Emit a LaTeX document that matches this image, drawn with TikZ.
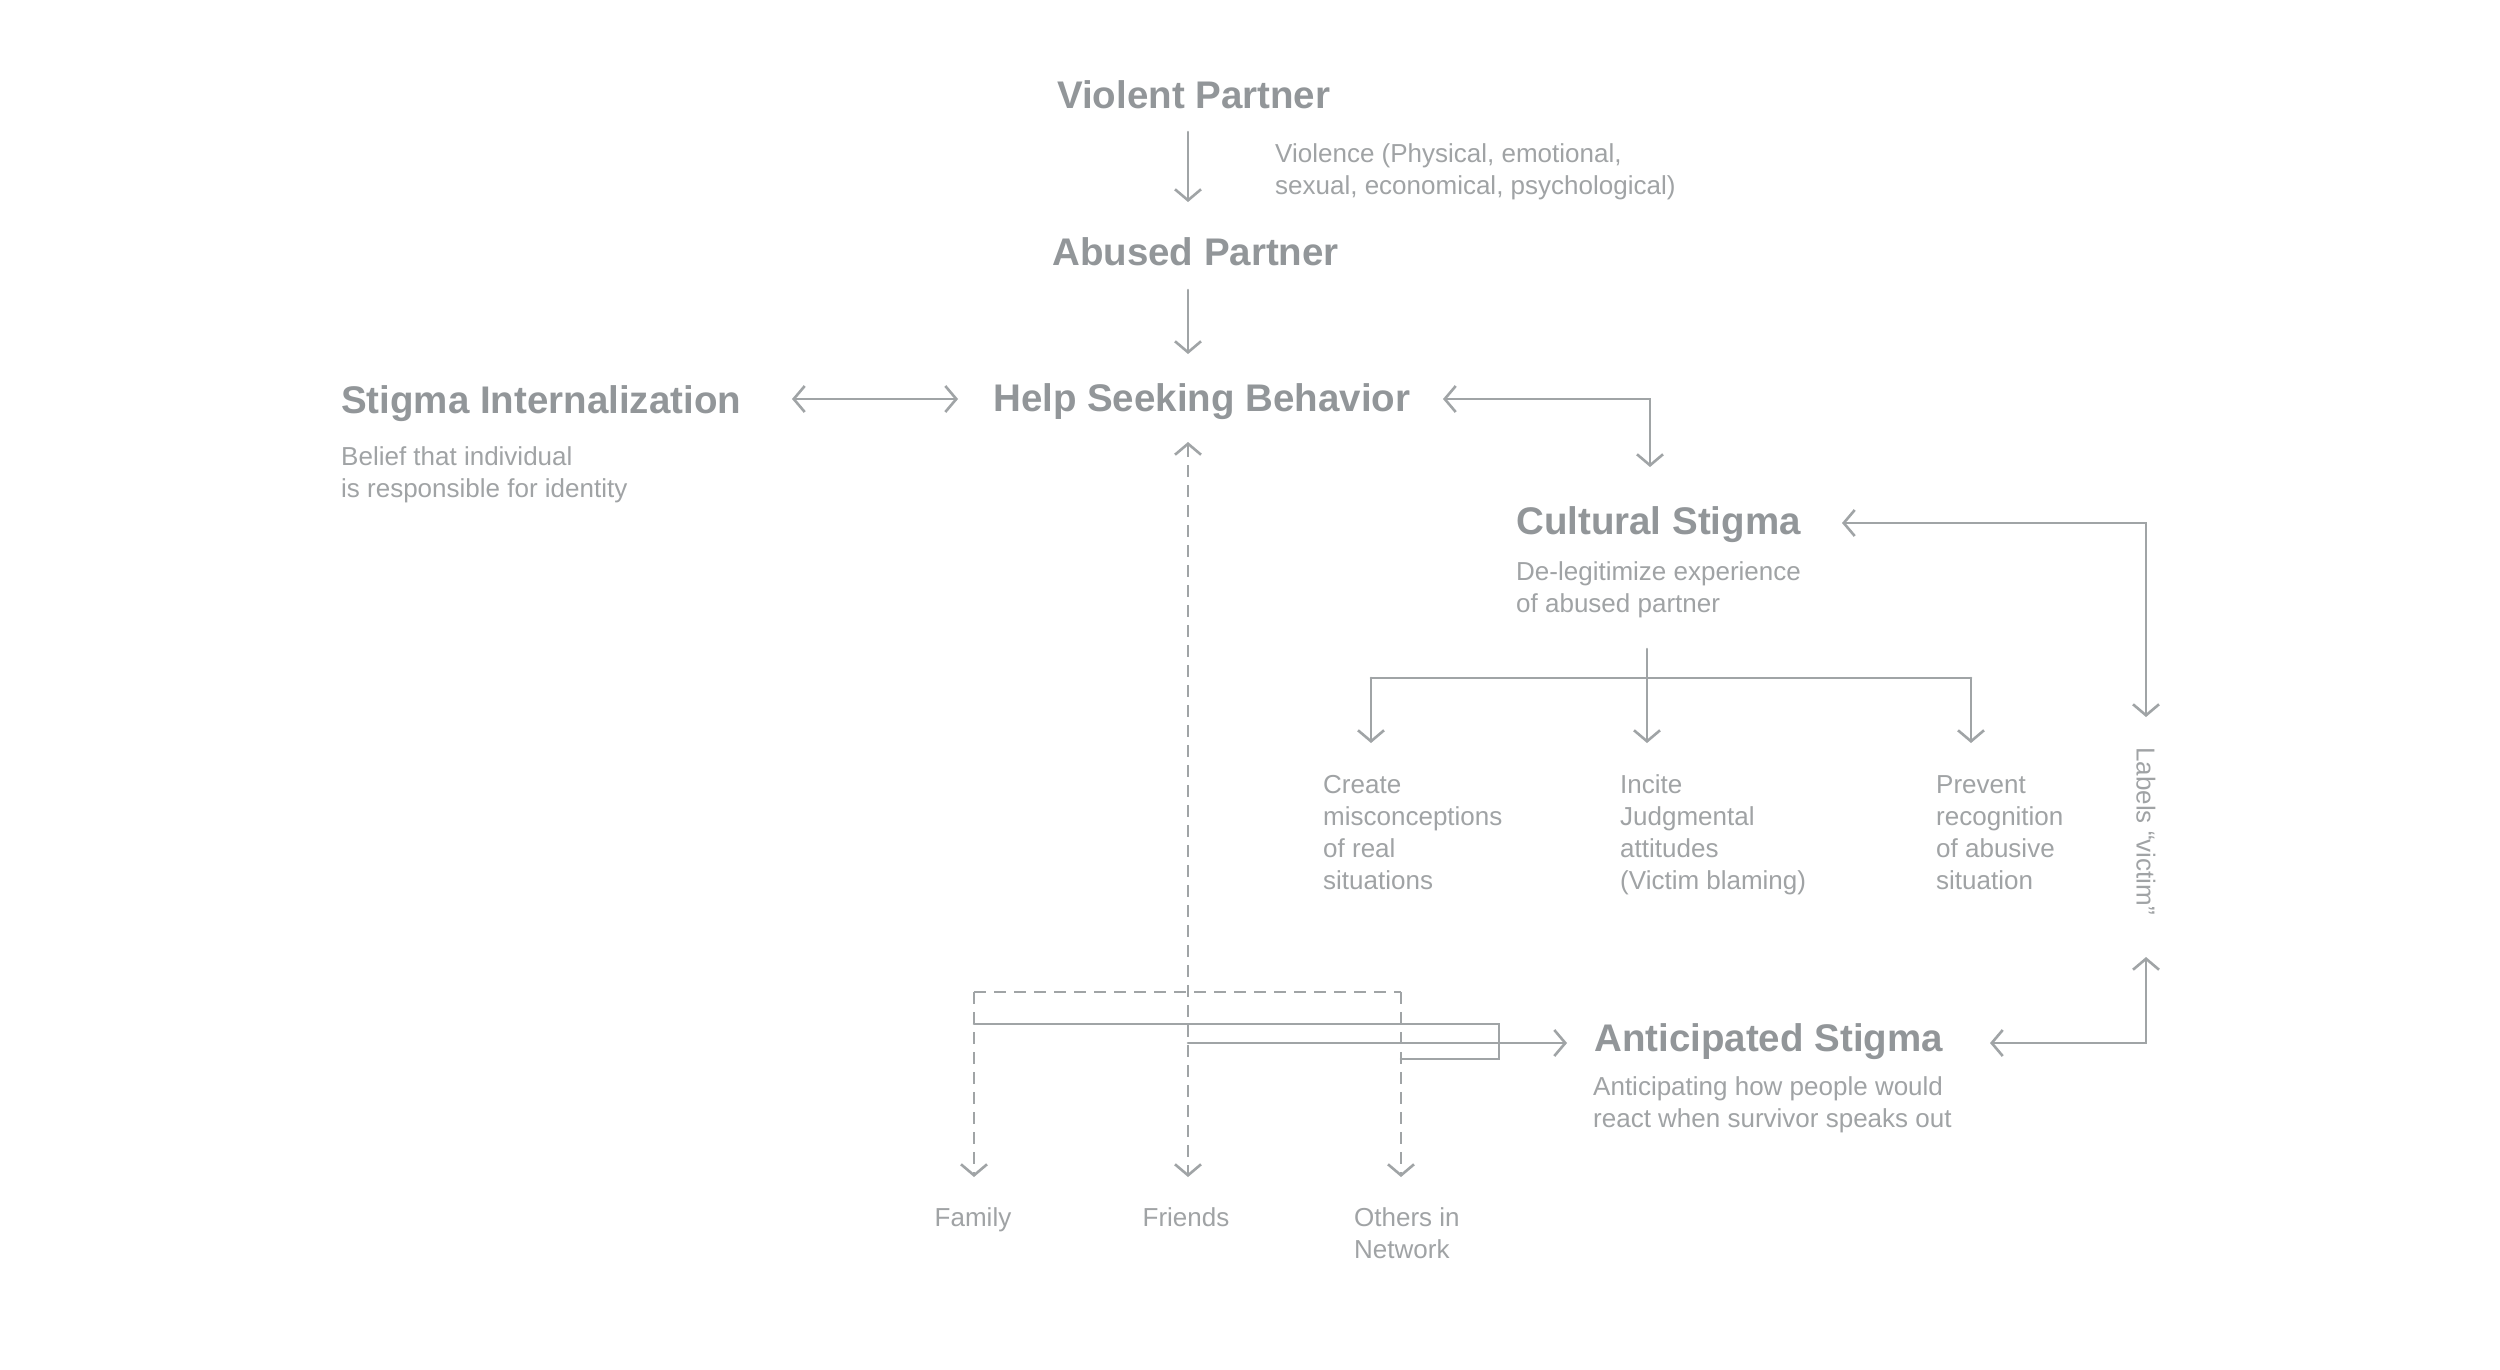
\documentclass[tikz,border=0pt]{standalone}
\usepackage{fontspec}
\setmainfont{Liberation Sans}
\usetikzlibrary{arrows.meta}
\definecolor{titlegray}{RGB}{146,150,153}
\definecolor{textgray}{RGB}{160,163,165}
\definecolor{linegray}{RGB}{160,164,166}
\tikzset{
  title/.style={anchor=base west, inner sep=0pt, text=titlegray, font=\fontsize{38.5}{44}\selectfont\bfseries},
  desc/.style={anchor=base west, inner sep=0pt, text=textgray, align=left, font=\fontsize{26}{32}\selectfont},
  conn/.style={draw=linegray, line width=2.6pt, line cap=round, line join=miter},
  arr/.style={conn, -{Straight Barb[length=11pt,width=26pt,line width=2.6pt]}},
  darr/.style={conn, {Straight Barb[length=11pt,width=26pt,line width=2.6pt]}-{Straight Barb[length=11pt,width=26pt,line width=2.6pt]}},
  dsh/.style={dash pattern=on 12pt off 8pt, line cap=butt}
}
\begin{document}
\begin{tikzpicture}[x=1pt,y=-1pt]
\fill[white] (0,0) rectangle (2500,1369);
\useasboundingbox (0,0) rectangle (2500,1369);

% titles
\node[title] (vp) at (1057,108) {Violent Partner};
\node[title] (ap) at (1052,265) {Abused Partner};
\node[title] (hs) at (993,411) {Help Seeking Behavior};
\node[title] (si) at (341,413) {Stigma Internalization};
\node[title] (cs) at (1516,534) {Cultural Stigma};
\node[title] (as) at (1594,1051) {Anticipated Stigma};

% descriptions (base anchor = last line baseline)
\node[desc] (viol) at (1275,194) {Violence (Physical, emotional,\\sexual, economical, psychological)};
\node[desc] (bel) at (341,497) {Belief that individual\\is responsible for identity};
\node[desc] (del) at (1516,612) {De-legitimize experience\\of abused partner};
\node[desc] (antd) at (1593,1127) {Anticipating how people would\\react when survivor speaks out};
\node[desc] (cr) at (1323,889) {Create\\misconceptions\\of real\\situations};
\node[desc] (inc) at (1620,889) {Incite\\Judgmental\\attitudes\\(Victim blaming)};
\node[desc] (prv) at (1936,889) {Prevent\\recognition\\of abusive\\situation};
\node[desc, anchor=base] (fam) at (973,1226) {Family};
\node[desc, anchor=base] (fri) at (1186,1226) {Friends};
\node[desc] (oth) at (1354,1258) {Others in\\Network};
\node[inner sep=0pt, text=textgray, font=\fontsize{26}{32}\selectfont, rotate=-90] (lv) at (2146,831) {Labels “victim”};

% connector coordinates
\coordinate (a1s) at (1188,132); \coordinate (a1e) at (1188,202);
\coordinate (a2s) at (1188,290); \coordinate (a2e) at (1188,354);
\coordinate (d1s) at (792,399);  \coordinate (d1e) at (958,399);
\coordinate (hc1) at (1443,399); \coordinate (hc2) at (1650,399); \coordinate (hc3) at (1650,467);
\coordinate (cl1) at (1842,523); \coordinate (cl2) at (2146,523); \coordinate (cl3) at (2146,717);
\coordinate (la1) at (2146,957); \coordinate (la2) at (2146,1043); \coordinate (la3) at (1990,1043);
\coordinate (br0) at (1647,649); \coordinate (brm) at (1647,743);
\coordinate (brl) at (1371,678); \coordinate (brr) at (1971,678);
\coordinate (brle) at (1371,743); \coordinate (brre) at (1971,743);
\coordinate (hdt) at (1188,442); \coordinate (hdb) at (1188,1177);
\coordinate (fa) at (974,1177); \coordinate (fat) at (974,992);
\coordinate (ot) at (1401,992); \coordinate (ob) at (1401,1177);
\coordinate (s1) at (974,1024); \coordinate (s2) at (1499,1024); \coordinate (s3) at (1499,1059); \coordinate (s4) at (1401,1059);
\coordinate (t1) at (1188,1043); \coordinate (t2) at (1567,1043);

% connectors
\draw[arr] (a1s) -- (a1e);
\draw[arr] (a2s) -- (a2e);
\draw[darr] (d1s) -- (d1e);
\draw[darr] (hc1) -- (hc2) -- (hc3);
\draw[darr] (cl1) -- (cl2) -- (cl3);
\draw[darr] (la1) -- (la2) -- (la3);
\draw[arr] (br0) -- (brm);
\draw[conn] (brl) -- (brr);
\draw[arr] (brl) -- (brle);
\draw[arr] (brr) -- (brre);

\draw[conn] (s1) -- (s2) -- (s3) -- (s4);
\draw[arr] (t1) -- (t2);
\draw[darr, dsh] (hdt) -- (hdb);
\draw[arr, dsh] (fat) -- (fa);
\draw[conn, dsh] (fat) -- (ot);
\draw[arr, dsh] (ot) -- (ob);
\end{tikzpicture}
\end{document}
